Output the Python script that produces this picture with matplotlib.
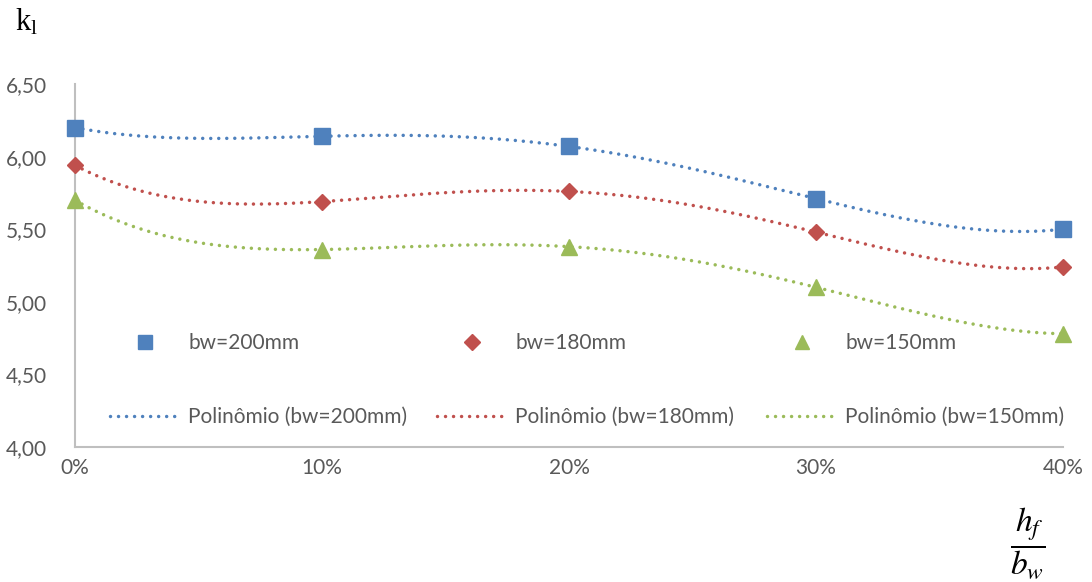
import numpy as np
import matplotlib
matplotlib.use("Agg")
import matplotlib.pyplot as plt
from matplotlib.lines import Line2D
from matplotlib.ticker import FuncFormatter

# data
ratio = [0.0, 0.1, 0.2, 0.3, 0.4]          # hf/bw
kl_200 = [6.20, 6.14, 6.07, 5.71, 5.50]
kl_180 = [5.94, 5.69, 5.76, 5.48, 5.24]
kl_150 = [5.70, 5.36, 5.38, 5.10, 4.78]
labels = ["bw=200mm", "bw=180mm", "bw=150mm"]
colors = ["#4F81BD", "#C0504D", "#9BBB59"]
markers = ["s", "D", "^"]
msizes = [11, 8.5, 11]

plt.rcParams['font.family'] = ['Lato', 'DejaVu Sans']
plt.rcParams['mathtext.fontset'] = 'stix'
W, H = 1092, 582
fig = plt.figure(figsize=(W / 100, H / 100), dpi=100)
ax = fig.add_axes([75 / W, 1 - 447 / H, (1063 - 75) / W, (447 - 84) / H])

dots = (0, (0.01, 2.3))
xs = np.linspace(0, 0.4, 300)
handles = []
for y, lab, c, m, ms in zip([kl_200, kl_180, kl_150], labels, colors, markers, msizes):
    # Excel polynomial trendline (order 4)
    coef = np.polyfit(ratio, y, 4)
    ln, = ax.plot(xs, np.polyval(coef, xs), color=c, lw=2.5,
                  linestyle=dots, dash_capstyle='round', clip_on=False)
    mk, = ax.plot(ratio, y, linestyle='none', marker=m, ms=ms, color=c,
                  clip_on=False, zorder=3)
    handles.append((mk, ln, lab))

ax.set_xlim(0, 0.4)
ax.set_ylim(4.0, 6.5)
ax.set_xticks(ratio)
ax.set_yticks([4.0, 4.5, 5.0, 5.5, 6.0, 6.5])
ax.xaxis.set_major_formatter(FuncFormatter(lambda v, p: f"{v*100:.0f}%"))
ax.yaxis.set_major_formatter(FuncFormatter(lambda v, p: f"{v:.2f}".replace(".", ",")))
ax.tick_params(length=0, labelsize=15, colors="#595959")
ax.tick_params(axis='y', pad=20)
ax.tick_params(axis='x', pad=8)
for s in ["top", "right"]:
    ax.spines[s].set_visible(False)
for s in ["left", "bottom"]:
    ax.spines[s].set_color("#BFBFBF")
    ax.spines[s].set_linewidth(1.5)

# legend: one small legend per column
col_x = [110, 437, 767]
for (mk, ln, lab), cx in zip(handles, col_x):
    h_m = Line2D([], [], linestyle='none', marker=mk.get_marker(),
                 ms=mk.get_markersize() * 0.9, color=mk.get_color())
    h_l = Line2D([], [], color=ln.get_color(), lw=2.5,
                 linestyle=dots, dash_capstyle='round')
    fig.legend([h_m, h_l], [lab, f"Polinômio ({lab})"],
               loc='upper left', bbox_to_anchor=(cx / W, 1 - 333 / H),
               frameon=False, fontsize=15, handlelength=3.4,
               handletextpad=0.35, labelspacing=2.6, borderpad=0,
               borderaxespad=0, labelcolor="#595959")

fig.text(15 / W, 1 - 31 / H, r"k$_\mathregular{l}$", family="Liberation Serif",
         fontsize=22, va="baseline", ha="left")
fig.text(1028 / W, 1 - 543 / H, r"$\dfrac{h_f}{b_w}$", fontsize=24,
         va="center", ha="center")

fig.savefig("out.png", dpi=100)
